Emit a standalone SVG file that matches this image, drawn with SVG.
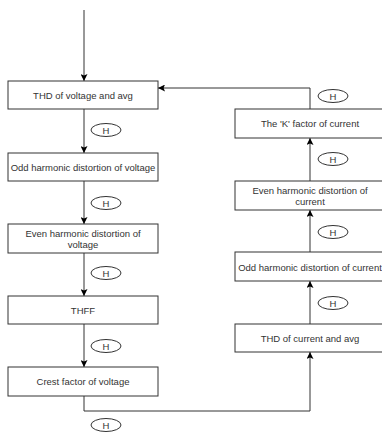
<svg xmlns="http://www.w3.org/2000/svg" width="382" height="432" viewBox="0 0 382 432">
<defs>
<marker id="ah" viewBox="0 0 10 10" refX="10" refY="5" markerWidth="7" markerHeight="7" orient="auto" markerUnits="userSpaceOnUse">
<path d="M0,0 L10,5 L0,10 L2,5 Z" fill="#000"/>
</marker>
<style>
.box{fill:#fff;stroke:#333;stroke-width:1}
.t{font-family:"Liberation Sans",Arial,sans-serif;font-size:9.5px;fill:#333;text-anchor:middle;dominant-baseline:central}
.e{fill:#fff;stroke:#333;stroke-width:1}
.c{fill:none;stroke:#333;stroke-width:1}
</style>
</defs>
<rect width="382" height="432" fill="#fff"/>
<g id="connectors">
<path class="c" d="M84,10 V81" marker-end="url(#ah)"/>
<path class="c" d="M84,109 V153" marker-end="url(#ah)"/>
<path class="c" d="M84,181 V224" marker-end="url(#ah)"/>
<path class="c" d="M84,253 V296" marker-end="url(#ah)"/>
<path class="c" d="M84,324 V367" marker-end="url(#ah)"/>
<path class="c" d="M84,396 V411 H310 V352" marker-end="url(#ah)"/>
<path class="c" d="M310,324 V281" marker-end="url(#ah)"/>
<path class="c" d="M310,252 V210" marker-end="url(#ah)"/>
<path class="c" d="M310,181 V138" marker-end="url(#ah)"/>
<path class="c" d="M310,109 V88 H158" marker-end="url(#ah)"/>
</g>
<g id="h1"><ellipse class="e" cx="106" cy="130" rx="15" ry="6.5"/><text class="t" x="106" y="130">H</text></g>
<g id="h2"><ellipse class="e" cx="106" cy="203" rx="15" ry="6.5"/><text class="t" x="106" y="203">H</text></g>
<g id="h3"><ellipse class="e" cx="106" cy="273" rx="15" ry="6.5"/><text class="t" x="106" y="273">H</text></g>
<g id="h4"><ellipse class="e" cx="106" cy="346" rx="15" ry="6.5"/><text class="t" x="106" y="346">H</text></g>
<g id="h5"><ellipse class="e" cx="106" cy="425" rx="15" ry="6.5"/><text class="t" x="106" y="425">H</text></g>
<g id="h6"><ellipse class="e" cx="333" cy="303" rx="15" ry="6.5"/><text class="t" x="333" y="303">H</text></g>
<g id="h7"><ellipse class="e" cx="333" cy="232" rx="15" ry="6.5"/><text class="t" x="333" y="232">H</text></g>
<g id="h8"><ellipse class="e" cx="333" cy="159" rx="15" ry="6.5"/><text class="t" x="333" y="159">H</text></g>
<g id="h9"><ellipse class="e" cx="333" cy="96" rx="15" ry="6.5"/><text class="t" x="333" y="96">H</text></g>
<g id="thd-voltage"><rect class="box" x="8" y="81" width="150" height="28"/><text class="t" x="83" y="95">THD of voltage and avg</text></g>
<g id="odd-voltage"><rect class="box" x="8" y="153" width="150" height="28"/><text class="t" x="83" y="167">Odd harmonic distortion of voltage</text></g>
<g id="even-voltage"><rect class="box" x="8" y="224" width="150" height="29"/><text class="t" x="83" y="233">Even harmonic distortion of</text><text class="t" x="83" y="244">voltage</text></g>
<g id="thff"><rect class="box" x="8" y="296" width="150" height="28"/><text class="t" x="83" y="310">THFF</text></g>
<g id="crest"><rect class="box" x="8" y="367" width="150" height="29"/><text class="t" x="83" y="381">Crest factor of voltage</text></g>
<g id="k-factor"><rect class="box" x="235" y="109" width="150" height="29"/><text class="t" x="310" y="123">The 'K' factor of current</text></g>
<g id="even-current"><rect class="box" x="235" y="181" width="150" height="29"/><text class="t" x="310" y="190">Even harmonic distortion of</text><text class="t" x="310" y="201">current</text></g>
<g id="odd-current"><rect class="box" x="235" y="252" width="150" height="29"/><text class="t" x="310" y="267">Odd harmonic distortion of current</text></g>
<g id="thd-current"><rect class="box" x="235" y="324" width="150" height="28"/><text class="t" x="310" y="338">THD of current and avg</text></g>
</svg>
